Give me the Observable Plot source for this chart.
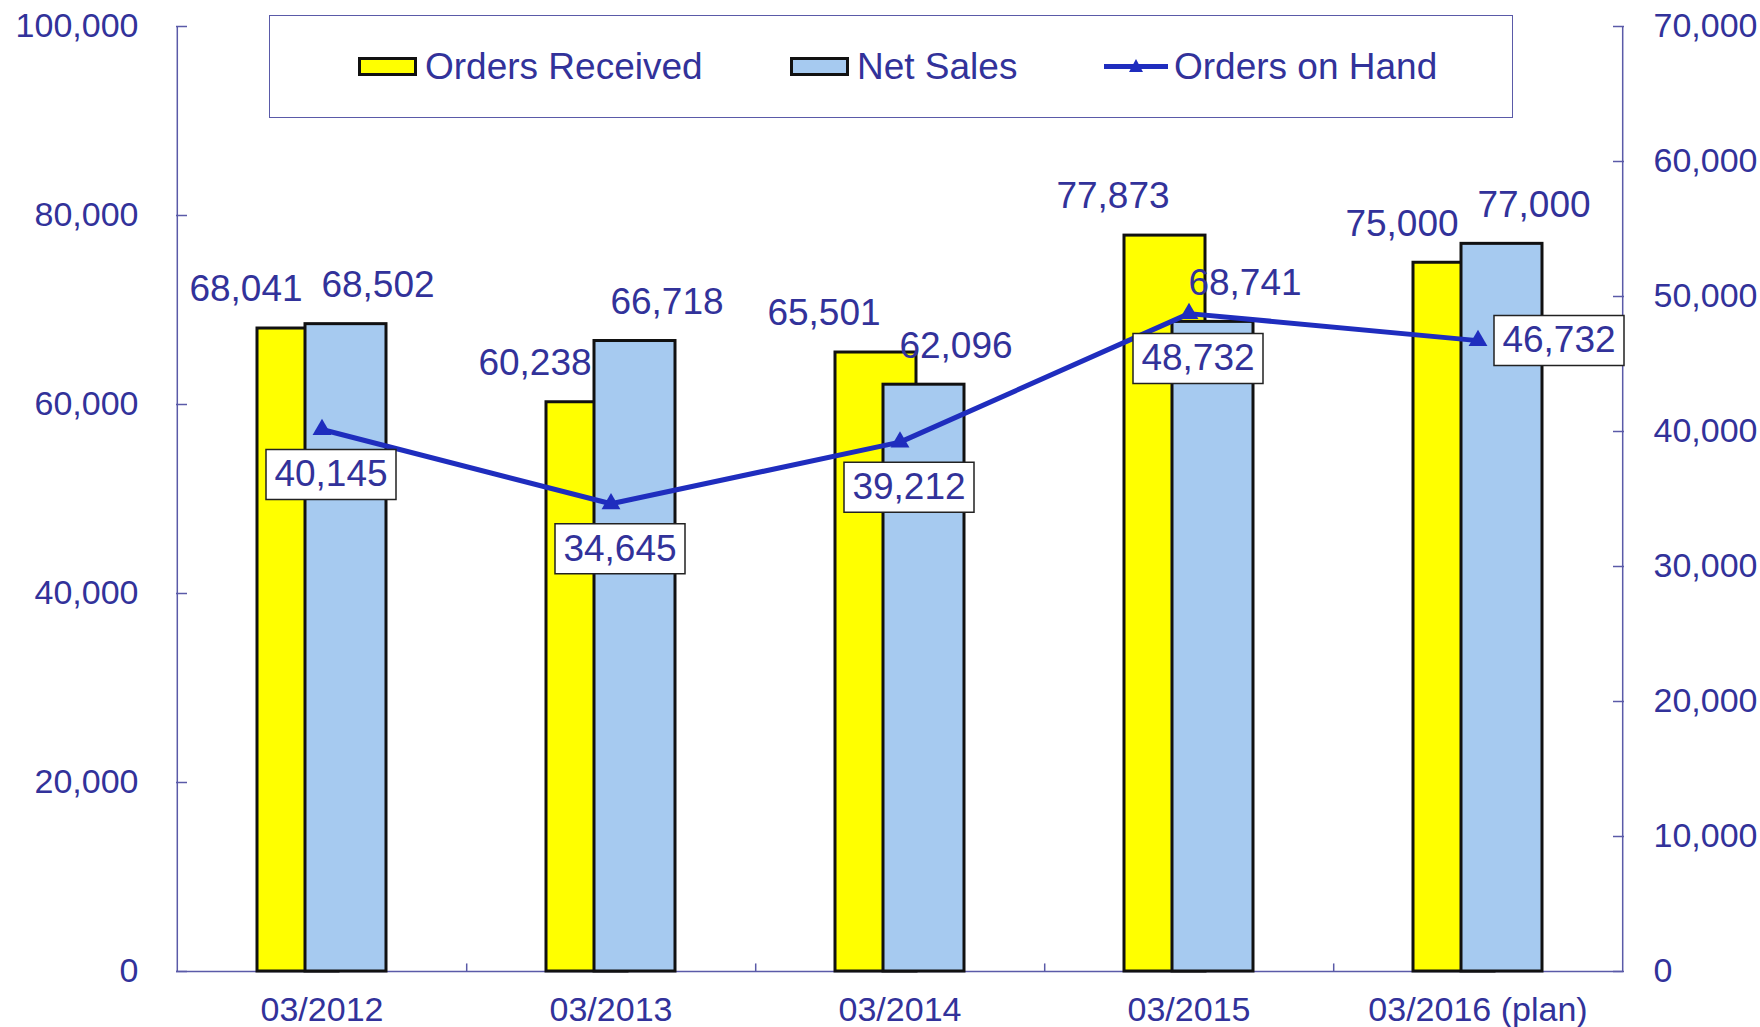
<!DOCTYPE html>
<html><head><meta charset="utf-8">
<script src="https://cdn.jsdelivr.net/npm/d3@7"></script>
<script src="https://cdn.jsdelivr.net/npm/@observablehq/plot@0.6"></script>
<style>
body{margin:0;background:#fff;}
#wrap{position:relative;width:1760px;height:1027px;font-family:"Liberation Sans",Arial,sans-serif;overflow:hidden;}
#legend{position:absolute;left:269px;top:15px;width:1244px;height:103px;box-sizing:border-box;border:1.5px solid #5a5aa8;background:#fff;}
.item{position:absolute;top:0;height:100%;display:flex;align-items:center;color:#32329a;font-size:37px;white-space:nowrap;}
.sw{display:inline-block;box-sizing:border-box;width:59px;height:19px;border:3px solid #111;margin-right:8px;}
.ln{position:relative;display:inline-block;width:64px;height:5px;background:#1f2dbe;margin-right:6px;}
.ln svg{position:absolute;left:25px;top:-6px;}
</style></head><body>
<div id="wrap"><div id="chart"></div><div id="legend"></div></div>
<script>
const categories = ["03/2012","03/2013","03/2014","03/2015","03/2016 (plan)"];
const ordersReceived = [68041,60238,65501,77873,75000];
const netSales = [68502,66718,62096,68741,77000];
const ordersOnHand = [40145,34645,39212,48732,46732];
const leftTicks = [0,20000,40000,60000,80000,100000];
const rightTicks = [0,10000,20000,30000,40000,50000,60000,70000];
const seriesNames = ["Orders Received","Net Sales","Orders on Hand"];

const W=1760,H=1027,mL=176,mR=137,mT=26,mB=56;
const step=(W-mL-mR)/categories.length;
const barW=81, off=24;
const pad=1-barW/step;
const leftMax=100000, rightMax=70000;
const toLeft=v=>v*leftMax/rightMax;
const fmt=d3.format(",");
const navy="#32329a", axisCol="#5a5aa8", lineCol="#1f2dbe";
const rows=categories.map((c,i)=>({cat:c,rec:ordersReceived[i],net:netSales[i],onHand:ordersOnHand[i],onHandY:toLeft(ordersOnHand[i])}));
const boxSymbol={draw(ctx){ctx.rect(-65,-25,130,50);}};
const font="Liberation Sans, Arial, sans-serif";
const tick=11;

const chart=Plot.plot({
  width:W,height:H,marginLeft:mL,marginRight:mR,marginTop:mT,marginBottom:mB,
  style:{fontFamily:font,background:"transparent",overflow:"visible"},
  x:{domain:categories,paddingInner:pad,paddingOuter:pad/2,align:0.5},
  y:{domain:[0,leftMax]},
  marks:[
    Plot.ruleY([0],{stroke:axisCol,strokeWidth:1.5}),
    Plot.ruleX([categories[0]],{x:d=>d,dx:-step/2,y1:0,y2:leftMax,stroke:axisCol,strokeWidth:1.5}),
    Plot.ruleX([categories[categories.length-1]],{x:d=>d,dx:step/2,y1:0,y2:leftMax,stroke:axisCol,strokeWidth:1.5}),
    Plot.ruleX(categories.slice(0,-1),{x:d=>d,dx:step/2,y1:0,y2:800,stroke:axisCol,strokeWidth:1.5}),
    Plot.axisY(leftTicks,{anchor:"left",tickSize:tick,dx:tick,tickFormat:()=>"",color:axisCol,strokeWidth:1.5,label:null}),
    Plot.axisY(leftTicks,{anchor:"left",tickSize:0,tickPadding:38,tickFormat:fmt,fontSize:34,color:navy,label:null}),
    Plot.axisY(rightTicks.map(toLeft),{anchor:"right",tickSize:tick,dx:-tick,tickFormat:()=>"",color:axisCol,strokeWidth:1.5,label:null}),
    Plot.axisY(rightTicks.map(toLeft),{anchor:"right",tickSize:0,tickPadding:30,tickFormat:d=>fmt(Math.round(d*rightMax/leftMax)),fontSize:34,color:navy,label:null}),
    Plot.axisX({anchor:"bottom",tickSize:0,tickPadding:25,fontSize:34,color:navy,label:null}),
    Plot.barY(rows,{x:"cat",y:"rec",dx:-off,fill:"#ffff00",stroke:"#111",strokeWidth:3}),
    Plot.barY(rows,{x:"cat",y:"net",dx:off,fill:"#a6caf0",stroke:"#111",strokeWidth:3}),
    Plot.line(rows,{x:"cat",y:"onHandY",stroke:lineCol,strokeWidth:5}),
    Plot.dot(rows,{x:"cat",y:"onHandY",symbol:"triangle",r:7,fill:lineCol}),
    Plot.dot(rows.slice(0,-1),{x:"cat",y:"onHandY",dx:9,dy:45,symbol:boxSymbol,fill:"white",stroke:"#222",strokeWidth:1.5}),
    Plot.dot(rows.slice(-1),{x:"cat",y:"onHandY",dx:81,dy:0,symbol:boxSymbol,fill:"white",stroke:"#222",strokeWidth:1.5}),
    Plot.text(rows.slice(0,-1),{x:"cat",y:"onHandY",text:d=>fmt(d.onHand),dx:9,dy:45,fontSize:37,fill:navy}),
    Plot.text(rows.slice(-1),{x:"cat",y:"onHandY",text:d=>fmt(d.onHand),dx:81,dy:0,fontSize:37,fill:navy}),
    Plot.text(rows,{x:"cat",y:"rec",text:d=>fmt(d.rec),dx:-76,dy:-39,fontSize:37,fill:navy}),
    Plot.text(rows,{x:"cat",y:"net",text:d=>fmt(d.net),dx:56,dy:-39,fontSize:37,fill:navy})
  ]
});
document.getElementById("chart").appendChild(chart);

const legend=document.getElementById("legend");
const items=[
  {left:88,html:`<span class="sw" style="background:#ffff00"></span>`},
  {left:520,html:`<span class="sw" style="background:#a6caf0"></span>`},
  {left:834,html:`<span class="ln"><svg width="14" height="16"><path d="M7,1L14,14L0,14Z" fill="${lineCol}"/></svg></span>`}
];
items.forEach((it,i)=>{
  const d=document.createElement("div");
  d.className="item";d.style.left=it.left+"px";
  d.innerHTML=it.html+`<span>${seriesNames[i]}</span>`;
  legend.appendChild(d);
});
</script>
</body></html>
